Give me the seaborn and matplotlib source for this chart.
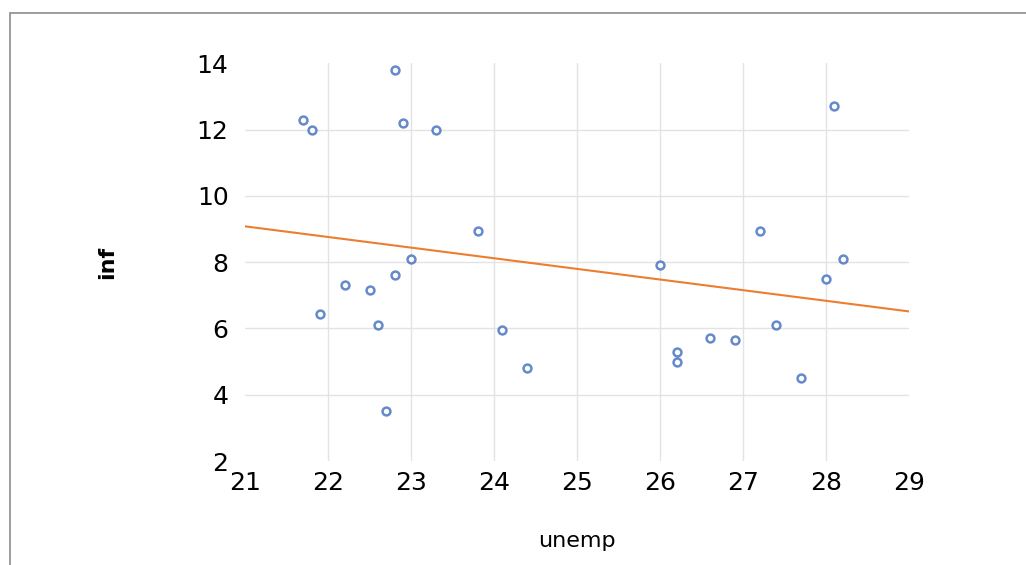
import numpy as np
import pandas as pd
import seaborn as sns
import matplotlib.pyplot as plt
from matplotlib.patches import Rectangle

unemp = [21.7, 21.8, 22.8, 22.9, 23.3, 23.8, 23.0, 22.8, 22.2, 22.5, 21.9, 22.6, 24.1,
         24.4, 22.7, 28.1, 27.2, 28.2, 26.0, 28.0, 27.4, 26.6, 26.9, 26.2, 26.2, 27.7]
inf = [12.3, 12.0, 13.8, 12.2, 12.0, 8.95, 8.1, 7.6, 7.3, 7.15, 6.45, 6.1, 5.95,
       4.8, 3.5, 12.7, 8.95, 8.1, 7.9, 7.5, 6.1, 5.7, 5.65, 5.3, 5.0, 4.5]
x_ticks = [21, 22, 23, 24, 25, 26, 27, 28, 29]
y_ticks = [2, 4, 6, 8, 10, 12, 14]

df = pd.DataFrame({'unemp': unemp, 'inf': inf})

sns.set_style('white')
plt.rcParams['font.family'] = ['DejaVu Sans']

fig = plt.figure(figsize=(10.26, 5.65), dpi=100)
ax = fig.add_axes([0.239, 0.184, 0.647, 0.704])
ax.set_xlim(x_ticks[0], x_ticks[-1])
ax.set_ylim(y_ticks[0], y_ticks[-1])

# excel-like gridlines, only on the inner ticks
for v in x_ticks[1:-1]:
    ax.axvline(v, color='#E3E3E3', linewidth=1, zorder=0)
for v in y_ticks[1:-1]:
    ax.axhline(v, color='#E3E3E3', linewidth=1, zorder=0)

sns.regplot(data=df, x='unemp', y='inf', ax=ax, ci=None, truncate=False,
            scatter_kws={'s': 32, 'facecolor': 'white', 'edgecolor': '#3F6DBF',
                         'linewidths': 1.8, 'zorder': 3},
            line_kws={'color': '#ED7D31', 'linewidth': 1.5, 'zorder': 2})

ax.set_xlim(x_ticks[0], x_ticks[-1])
ax.set_ylim(y_ticks[0], y_ticks[-1])
ax.set_xticks(x_ticks)
ax.set_yticks(y_ticks)
ax.tick_params(axis='both', length=0, labelsize=18, colors='black')
ax.tick_params(axis='y', pad=12)
ax.tick_params(axis='x', pad=7)
ax.grid(False)
for s in ax.spines.values():
    s.set_visible(False)

ax.set_xlabel('unemp', fontsize=16, labelpad=26, color='black')
ax.set_ylabel('inf', fontsize=16, labelpad=57, fontweight='bold', color='black')

fig.patches.append(Rectangle((10 / 1026, -0.05), 1.0, 1 - 13 / 565 + 0.05,
                             transform=fig.transFigure, fill=False,
                             edgecolor='#8C8C8C', linewidth=1.2))

fig.savefig('out.png', dpi=100)
